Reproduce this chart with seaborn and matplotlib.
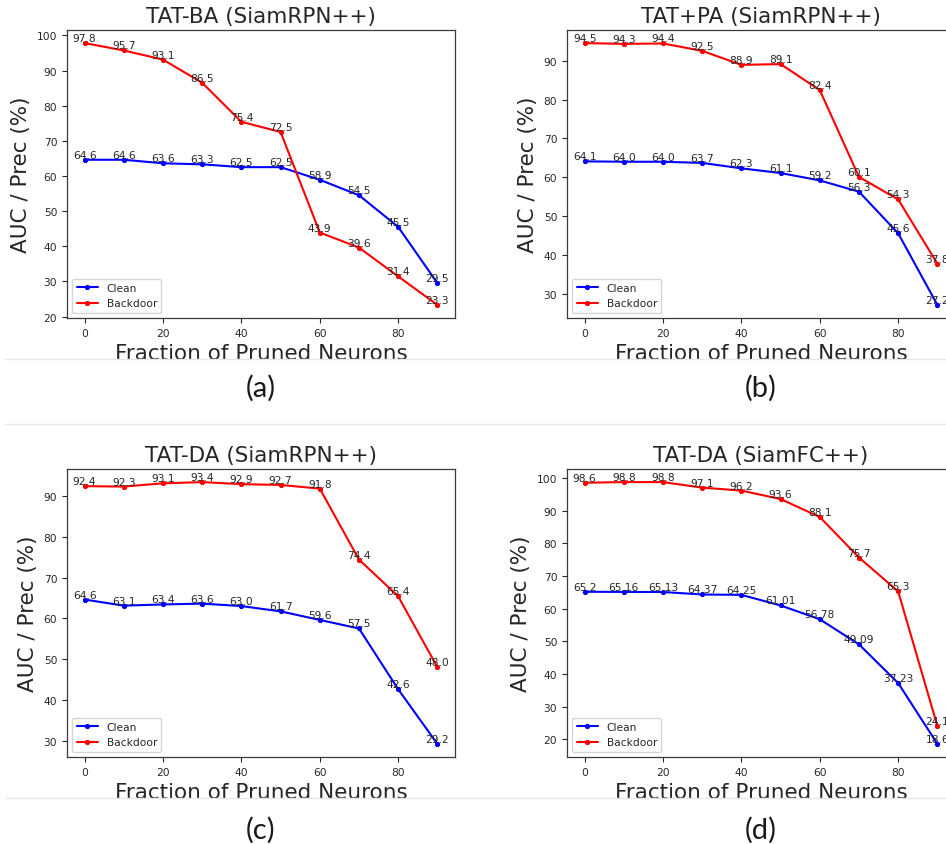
import matplotlib
matplotlib.use("Agg")
import matplotlib.pyplot as plt
from matplotlib.lines import Line2D
import seaborn as sns
import pandas as pd

# Pruning fractions (%)
fractions = [0, 10, 20, 30, 40, 50, 60, 70, 80, 90]

# TAT-BA (SiamRPN++)
ba_rpn_clean = [64.6, 64.6, 63.6, 63.3, 62.5, 62.5, 58.9, 54.5, 45.5, 29.5]
ba_rpn_backdoor = [97.8, 95.7, 93.1, 86.5, 75.4, 72.5, 43.9, 39.6, 31.4, 23.3]

# TAT+PA (SiamRPN++)
pa_rpn_clean = [64.1, 64.0, 64.0, 63.7, 62.3, 61.1, 59.2, 56.3, 45.6, 27.2]
pa_rpn_backdoor = [94.5, 94.3, 94.4, 92.5, 88.9, 89.1, 82.4, 60.1, 54.3, 37.8]

# TAT-DA (SiamRPN++)
da_rpn_clean = [64.6, 63.1, 63.4, 63.6, 63.0, 61.7, 59.6, 57.5, 42.6, 29.2]
da_rpn_backdoor = [92.4, 92.3, 93.1, 93.4, 92.9, 92.7, 91.8, 74.4, 65.4, 48.0]

# TAT-DA (SiamFC++)
da_fc_clean = [65.2, 65.16, 65.13, 64.37, 64.25, 61.01, 56.78, 49.09, 37.23, 18.6]
da_fc_backdoor = [98.6, 98.8, 98.8, 97.1, 96.2, 93.6, 88.1, 75.7, 65.3, 24.1]

titles = ["TAT-BA (SiamRPN++)", "TAT+PA (SiamRPN++)",
          "TAT-DA (SiamRPN++)", "TAT-DA (SiamFC++)"]
captions = ["(a)", "(b)", "(c)", "(d)"]
series_names = ["Clean", "Backdoor"]

panels = [
    (ba_rpn_clean, ba_rpn_backdoor),
    (pa_rpn_clean, pa_rpn_backdoor),
    (da_rpn_clean, da_rpn_backdoor),
    (da_fc_clean, da_fc_backdoor),
]

sns.set_style("ticks")
plt.rcParams["font.family"] = ["DejaVu Sans"]
plt.rcParams["text.color"] = "#262626"
plt.rcParams["xtick.color"] = "#262626"
plt.rcParams["ytick.color"] = "#262626"
plt.rcParams["axes.edgecolor"] = "#3a3a3a"
plt.rcParams["axes.linewidth"] = 0.9

W, H = 946, 845
fig = plt.figure(figsize=(W / 100, H / 100), dpi=100)
fig.patch.set_facecolor("white")

ax_w, ax_h = 388, 288
# (left, top) of each axes box in pixels
boxes = [(67, 31), (567, 31), (67, 470), (567, 470)]
caption_y = [388, 830]

colors = {"Clean": "#0000ff", "Backdoor": "#ff0000"}

for i, ((clean, backdoor), (left, top)) in enumerate(zip(panels, boxes)):
    ax = fig.add_axes([left / W, 1 - (top + ax_h) / H, ax_w / W, ax_h / H])
    for name, vals in zip(series_names, (clean, backdoor)):
        df = pd.DataFrame({"fraction": fractions, "value": vals})
        sns.lineplot(data=df, x="fraction", y="value", ax=ax, label=name,
                     color=colors[name], marker=".", markersize=6,
                     markeredgecolor=colors[name], linewidth=1.5)
        for xv, yv in zip(fractions, vals):
            ax.text(xv, yv, str(yv), ha="center", va="bottom",
                    fontsize=7.7, color="#262626")
    ax.set_title(titles[i], fontsize=15.5, pad=6)
    ax.set_xlabel("Fraction of Pruned Neurons", fontsize=15.5)
    ax.set_ylabel("AUC / Prec (%)", fontsize=15.5)
    ax.tick_params(labelsize=7.7, length=3.5, width=0.8)
    ax.legend(loc="lower left", fontsize=7.7)
    cx = (left + ax_w / 2) / W
    cy = 1 - caption_y[i // 2] / H
    fig.text(cx, cy, captions[i], ha="center", va="center",
             fontsize=21, family=["Lato", "DejaVu Sans"], color="#1a1a1a")

# thin separators of the layout
for ypix in (360, 425, 799):
    fig.add_artist(Line2D([5 / W, 1.0], [1 - ypix / H, 1 - ypix / H],
                          color="#e6e6e6", linewidth=1.0))

fig.savefig("out.png", dpi=100, facecolor="white")
